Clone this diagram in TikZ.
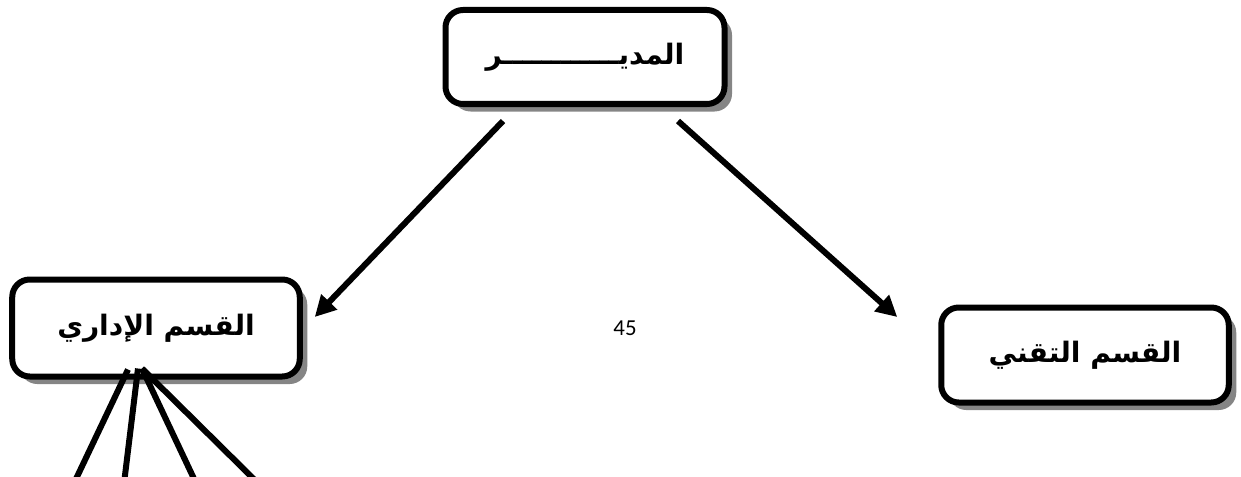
\documentclass[tikz,border=0pt]{standalone}
\usepackage{fontspec}
\setmainfont{Carlito}
\newfontfamily\arabicfont[Script=Arabic]{DejaVu Sans}
\TeXXeTstate=1
\usetikzlibrary{arrows.meta,shadows}

\tikzset{
  unitbox/.style={draw, line width=1.2mm, rounded corners=3.5mm, fill=white,
    minimum width=57.5mm, minimum height=19.4mm, inner sep=0pt,
    font=\arabicfont\bfseries\fontsize{16}{19}\selectfont,
    drop shadow={shadow xshift=1.5mm, shadow yshift=-1.5mm, fill=black!48, opacity=1}},
  link/.style={line width=1.2mm},
  arrowlink/.style={link, -{Triangle[length=4.2mm, width=4.2mm]}}
}

\begin{document}
\begin{tikzpicture}[x=0.2mm, y=-0.2mm]
    \clip (0,0) rectangle (1241,477);

    % Director (top)
    \node[unitbox, minimum width=55.8mm, minimum height=18.8mm] (dir) at (585,57)
      {\beginR المديــــــــــــر\endR};

    % Departments
    \node[unitbox] (admin) at (156,328) {\raisebox{-0.8mm}{\beginR القسم الإداري\endR}};
    \node[unitbox, minimum height=19mm] (tech) at (1085,355) {\beginR القسم التقني\endR};

    % Page number
    \node (page) at (625,328) {\fontsize{13}{15}\selectfont 45};

    % Director to departments
    \draw[arrowlink] ([shift={(-82,14)}]dir.south) -- ([shift={(12,-11)}]admin.east);
    \draw[arrowlink] ([shift={(93,14)}]dir.south) -- ([shift={(-41,-38)}]tech.west);

    % Lines below the administrative department
    \coordinate (sub1) at (66,500);
    \coordinate (sub2) at (122,500);
    \coordinate (sub3) at (204,500);
    \coordinate (sub4) at (275,500);
    \draw[link] ([shift={(-28,-10)}]admin.south) -- (sub1);
    \draw[link] ([shift={(-18,-11)}]admin.south) -- (sub2);
    \draw[link] ([shift={(-14,-11)}]admin.south) -- (sub3);
    \draw[link] ([shift={(-14,-11)}]admin.south) -- (sub4);
\end{tikzpicture}
\end{document}
